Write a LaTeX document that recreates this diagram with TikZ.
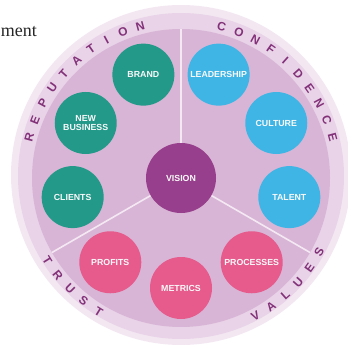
\documentclass[tikz,border=0pt]{standalone}
\usepackage{fontspec}
\setmainfont{Liberation Sans}
\newfontfamily\headserif{Liberation Serif}
\usetikzlibrary{calc}
\definecolor{ringout}{HTML}{F3E8F2}
\definecolor{ringband}{HTML}{E9D3E8}
\definecolor{disk}{HTML}{D8B5D6}
\definecolor{dividerc}{HTML}{F4E8F3}
\definecolor{tealc}{HTML}{23998A}
\definecolor{bluec}{HTML}{3FB5E5}
\definecolor{pinkc}{HTML}{E65A8C}
\definecolor{visionc}{HTML}{973F8C}
\definecolor{arctext}{HTML}{833279}
\begin{document}
\begin{tikzpicture}[x=1pt,y=1pt,
  bubble/.style={circle, minimum size=62pt, inner sep=0pt,
    font=\fontsize{8.8}{9.8}\selectfont\bfseries, text=white!95!gray, align=center},
  arcletter/.style={font=\fontsize{12}{12}\selectfont\bfseries, text=arctext, inner sep=0pt},
  divider/.style={draw=dividerc, line width=1.6pt}]
\useasboundingbox (0,0) rectangle (348,346);
\coordinate (c) at (181,168);

% rings and inner disk
\fill[ringout] (181,171) circle (170);
\fill[ringband] (181,170) circle (163);
\fill[disk] (c) circle (149);

% sector dividers
\foreach \a/\n in {90/up,210/left,330/right}
  \coordinate (e\n) at ($(c)+(\a:149)$);
\draw[divider] (c) -- (eup);
\draw[divider] (c) -- (eleft);
\draw[divider] (c) -- (eright);

% bubbles
\node[bubble, fill=visionc, minimum size=70pt] (vision) at (c) {VISION};
\node[bubble, fill=tealc] (brand)    at ($(c)+(110:110)$) {BRAND};
\node[bubble, fill=tealc] (newbiz)   at ($(c)+(150:110)$) {NEW\\BUSINESS};
\node[bubble, fill=tealc] (clients)  at ($(c)+(190:110)$) {CLIENTS};
\node[bubble, fill=pinkc] (profits)  at ($(c)+(230:110)$) {PROFITS};
\node[bubble, fill=pinkc] (metrics)  at ($(c)+(270:110)$) {METRICS};
\node[bubble, fill=pinkc] (process)  at ($(c)+(310:110)$) {PROCESSES};
\node[bubble, fill=bluec] (talent)   at ($(c)+(350:110)$) {TALENT};
\node[bubble, fill=bluec] (culture)  at ($(c)+(30:110)$)  {CULTURE};
\node[bubble, fill=bluec] (leader)   at ($(c)+(70:110)$)  {LEADERSHIP};

% lettering around the ring
\foreach \ch [count=\i from 0] in {R,E,P,U,T,A,T,I,O,N} {
  \pgfmathsetmacro\ang{165-\i*60/9}
  \node[arcletter, rotate=\ang-90] (rep\i) at ($(c)+(\ang:157)$) {\ch};
}
\foreach \ch [count=\i from 0] in {C,O,N,F,I,D,E,N,C,E} {
  \pgfmathsetmacro\ang{75-\i*60/9}
  \node[arcletter, rotate=\ang-90] (con\i) at ($(c)+(\ang:157)$) {\ch};
}
\foreach \ch [count=\i from 0] in {T,R,U,S,T} {
  \pgfmathsetmacro\ang{225-2*20/3+\i*20/3}
  \node[arcletter, rotate=\ang+90] (tru\i) at ($(c)+(\ang:157)$) {\ch};
}
\foreach \ch [count=\i from 0] in {V,A,L,U,E,S} {
  \pgfmathsetmacro\ang{315-2.5*20/3+\i*20/3}
  \node[arcletter, rotate=\ang+90] (val\i) at ($(c)+(\ang:157)$) {\ch};
}

% running head fragment
\node[anchor=base east, inner sep=0pt, font=\headserif\fontsize{18}{18}\selectfont,
  text=black!85] (head) at (37,309) {ment};
\end{tikzpicture}
\end{document}
